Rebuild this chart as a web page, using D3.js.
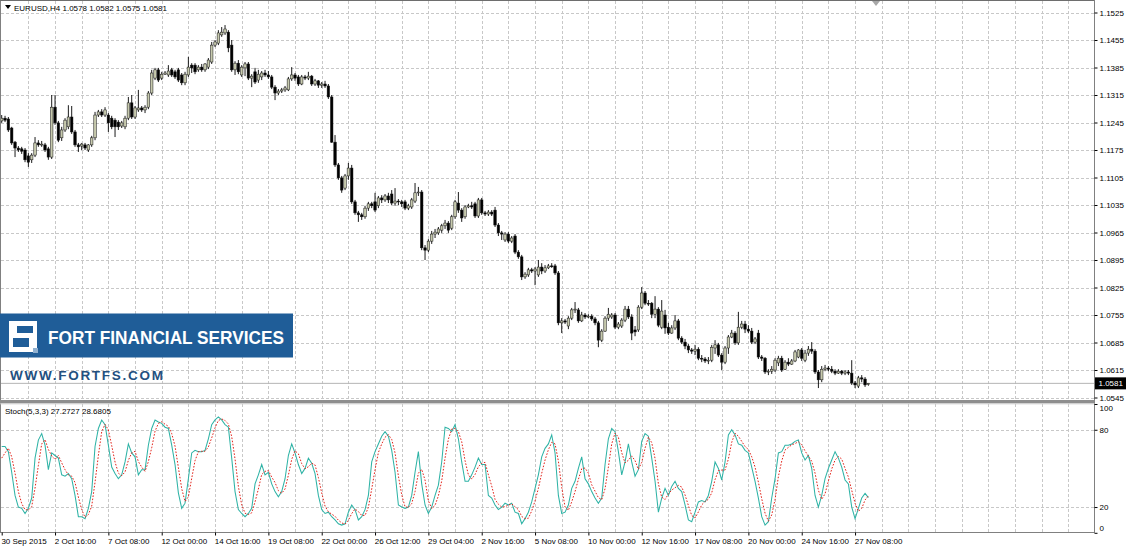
<!DOCTYPE html>
<html><head><meta charset="utf-8">
<script src="https://cdn.jsdelivr.net/npm/d3@7"></script>
<style>
html,body{margin:0;padding:0;background:#fff;overflow:hidden}
svg{display:block}
text{font-family:"Liberation Sans",Arial,sans-serif}
</style></head><body>
<svg id="c" width="1126" height="547"></svg>
<script>
// ---- DATA (EURUSD H4) ----
const opens=[
1.1249,1.1256,1.1254,1.1231,1.1195,1.1180,1.1178,1.1175,1.1160,1.1150,
1.1162,1.1193,1.1188,1.1188,1.1178,1.1157,1.1284,1.1244,1.1206,1.1226,
1.1234,1.1259,1.1221,1.1188,1.1185,1.1188,1.1175,1.1188,1.1206,1.1264,
1.1272,1.1264,1.1264,1.1256,1.1251,1.1246,1.1236,1.1234,1.1256,1.1295,
1.1259,1.1277,1.1282,1.1277,1.1284,1.1320,1.1358,1.1379,1.1358,1.1368,
1.1366,1.1379,1.1374,1.1379,1.1366,1.1346,1.1366,1.1391,1.1391,1.1379,
1.1386,1.1379,1.1386,1.1399,1.1442,1.1447,1.1468,1.1473,1.1475,1.1442,
1.1379,1.1396,1.1366,1.1384,1.1394,1.1358,1.1374,1.1353,1.1361,1.1371,
1.1366,1.1361,1.1335,1.1320,1.1325,1.1328,1.1328,1.1356,1.1366,1.1361,
1.1343,1.1361,1.1358,1.1363,1.1343,1.1351,1.1340,1.1343,1.1338,1.1310,
1.1195,1.1137,1.1104,1.1078,1.1109,1.1129,1.1043,1.1015,1.1010,1.1005,
1.1027,1.1038,1.1043,1.1033,1.1053,1.1048,1.1058,1.1063,1.1040,1.1045,
1.1043,1.1043,1.1027,1.1030,1.1045,1.1066,1.1068,1.0926,1.0920,1.0943,
1.0961,1.0964,1.0971,1.0982,1.0989,1.0976,1.1005,1.1040,1.1022,1.1005,
1.1030,1.1033,1.1038,1.1007,1.1048,1.1015,1.1012,1.1017,1.1022,1.0984,
1.0964,1.0946,1.0961,1.0943,1.0956,1.0915,1.0903,1.0852,1.0857,1.0870,
1.0867,1.0857,1.0877,1.0867,1.0875,1.0880,1.0880,1.0862,1.0735,1.0740,
1.0727,1.0747,1.0768,1.0768,1.0740,1.0755,1.0750,1.0752,1.0745,1.0735,
1.0691,1.0714,1.0747,1.0750,1.0755,1.0724,1.0727,1.0742,1.0770,1.0750,
1.0717,1.0717,1.0775,1.0811,1.0785,1.0785,1.0757,1.0770,1.0724,1.0755,
1.0724,1.0709,1.0722,1.0740,1.0696,1.0686,1.0676,1.0666,1.0663,1.0668,
1.0645,1.0643,1.0638,1.0640,1.0671,1.0679,1.0653,1.0635,1.0671,1.0699,
1.0709,1.0684,1.0724,1.0732,1.0719,1.0714,1.0686,1.0709,1.0648,1.0645,
1.0610,1.0612,1.0615,1.0633,1.0645,1.0617,1.0635,1.0630,1.0638,1.0648,
1.0666,1.0640,1.0658,1.0668,1.0663,1.0610,1.0590,1.0617,1.0620,1.0617,
1.0612,1.0607,1.0612,1.0607,1.0610,1.0607,1.0582,1.0574,1.0595,1.0592,1.0578];
const highs=[
1.1264,1.1262,1.1259,1.1234,1.1198,1.1185,1.1183,1.1180,1.1167,1.1167,
1.1208,1.1200,1.1198,1.1193,1.1183,1.1315,1.1315,1.1249,1.1234,1.1256,
1.1289,1.1287,1.1226,1.1193,1.1193,1.1193,1.1190,1.1211,1.1272,1.1277,
1.1279,1.1284,1.1269,1.1262,1.1256,1.1251,1.1249,1.1262,1.1310,1.1315,
1.1287,1.1328,1.1287,1.1289,1.1325,1.1379,1.1384,1.1384,1.1374,1.1376,
1.1391,1.1384,1.1379,1.1384,1.1371,1.1374,1.1412,1.1396,1.1396,1.1391,
1.1394,1.1396,1.1409,1.1450,1.1455,1.1480,1.1488,1.1493,1.1480,1.1455,
1.1401,1.1404,1.1391,1.1399,1.1399,1.1368,1.1384,1.1379,1.1376,1.1379,
1.1376,1.1366,1.1340,1.1330,1.1333,1.1338,1.1361,1.1386,1.1371,1.1366,
1.1366,1.1366,1.1374,1.1366,1.1356,1.1353,1.1348,1.1351,1.1343,1.1315,
1.1213,1.1142,1.1109,1.1114,1.1142,1.1137,1.1048,1.1020,1.1015,1.1033,
1.1043,1.1043,1.1066,1.1058,1.1060,1.1063,1.1066,1.1073,1.1078,1.1050,
1.1048,1.1048,1.1038,1.1053,1.1091,1.1081,1.1073,1.0933,1.0948,1.0969,
1.0974,1.0979,1.0987,1.0997,1.0994,1.1010,1.1048,1.1068,1.1027,1.1035,
1.1038,1.1043,1.1043,1.1053,1.1053,1.1020,1.1022,1.1022,1.1030,1.0989,
1.0969,1.0966,1.0966,1.0956,1.0961,1.0920,1.0908,1.0864,1.0875,1.0875,
1.0877,1.0895,1.0887,1.0882,1.0885,1.0887,1.0885,1.0867,1.0747,1.0745,
1.0752,1.0773,1.0788,1.0773,1.0763,1.0760,1.0757,1.0757,1.0750,1.0740,
1.0719,1.0752,1.0773,1.0760,1.0760,1.0737,1.0747,1.0778,1.0778,1.0757,
1.0727,1.0780,1.0826,1.0816,1.0793,1.0788,1.0803,1.0775,1.0793,1.0768,
1.0735,1.0729,1.0755,1.0745,1.0701,1.0694,1.0681,1.0671,1.0679,1.0673,
1.0653,1.0648,1.0648,1.0679,1.0691,1.0684,1.0658,1.0676,1.0704,1.0717,
1.0714,1.0763,1.0740,1.0740,1.0729,1.0722,1.0699,1.0717,1.0653,1.0648,
1.0617,1.0625,1.0645,1.0651,1.0651,1.0640,1.0645,1.0643,1.0666,1.0668,
1.0671,1.0666,1.0676,1.0686,1.0668,1.0615,1.0625,1.0628,1.0625,1.0625,
1.0617,1.0617,1.0615,1.0615,1.0615,1.0640,1.0587,1.0600,1.0602,1.0597,1.0582];
const lows=[
1.1244,1.1246,1.1221,1.1188,1.1157,1.1170,1.1165,1.1144,1.1132,1.1142,
1.1157,1.1183,1.1183,1.1170,1.1150,1.1152,1.1239,1.1195,1.1198,1.1221,
1.1228,1.1216,1.1183,1.1170,1.1175,1.1175,1.1170,1.1183,1.1200,1.1259,
1.1259,1.1259,1.1221,1.1228,1.1208,1.1226,1.1231,1.1228,1.1251,1.1254,
1.1254,1.1272,1.1272,1.1269,1.1279,1.1315,1.1353,1.1348,1.1353,1.1366,
1.1361,1.1361,1.1356,1.1348,1.1340,1.1340,1.1361,1.1371,1.1368,1.1374,
1.1374,1.1374,1.1381,1.1394,1.1437,1.1442,1.1463,1.1468,1.1424,1.1374,
1.1366,1.1368,1.1361,1.1363,1.1353,1.1335,1.1343,1.1346,1.1353,1.1361,
1.1356,1.1330,1.1302,1.1315,1.1320,1.1323,1.1325,1.1351,1.1351,1.1338,
1.1340,1.1353,1.1353,1.1338,1.1338,1.1333,1.1333,1.1333,1.1305,1.1193,
1.1132,1.1099,1.1066,1.1073,1.1099,1.1038,1.1010,1.0992,1.0997,1.1000,
1.1020,1.1027,1.1017,1.1027,1.1040,1.1043,1.1040,1.1035,1.1033,1.1035,
1.1030,1.1022,1.1022,1.1025,1.1040,1.1058,1.0920,1.0895,1.0915,1.0936,
1.0951,1.0959,1.0964,1.0974,1.0964,1.0971,1.1000,1.1015,1.0992,1.1000,
1.1027,1.1025,1.1002,1.1002,1.1010,1.1007,1.1007,1.1007,1.0979,1.0956,
1.0946,1.0941,1.0938,1.0938,1.0910,1.0898,1.0844,1.0847,1.0852,1.0862,
1.0831,1.0852,1.0859,1.0862,1.0872,1.0875,1.0857,1.0729,1.0709,1.0732,
1.0719,1.0742,1.0760,1.0735,1.0737,1.0745,1.0747,1.0740,1.0729,1.0673,
1.0686,1.0712,1.0740,1.0745,1.0719,1.0719,1.0722,1.0737,1.0745,1.0691,
1.0701,1.0712,1.0770,1.0780,1.0778,1.0747,1.0747,1.0724,1.0719,1.0707,
1.0704,1.0707,1.0717,1.0691,1.0681,1.0668,1.0658,1.0656,1.0653,1.0640,
1.0635,1.0633,1.0630,1.0635,1.0656,1.0648,1.0615,1.0630,1.0656,1.0696,
1.0679,1.0679,1.0719,1.0709,1.0709,1.0681,1.0681,1.0643,1.0638,1.0605,
1.0602,1.0605,1.0610,1.0625,1.0610,1.0615,1.0625,1.0628,1.0635,1.0645,
1.0638,1.0635,1.0651,1.0656,1.0605,1.0569,1.0584,1.0612,1.0612,1.0607,
1.0602,1.0605,1.0602,1.0602,1.0602,1.0577,1.0569,1.0569,1.0584,1.0572,1.0575];
const closes=[
1.1256,1.1251,1.1226,1.1193,1.1180,1.1175,1.1172,1.1150,1.1144,1.1162,
1.1193,1.1188,1.1190,1.1175,1.1157,1.1284,1.1244,1.1200,1.1226,1.1251,
1.1259,1.1221,1.1188,1.1183,1.1190,1.1180,1.1188,1.1206,1.1264,1.1272,
1.1264,1.1277,1.1244,1.1234,1.1234,1.1234,1.1244,1.1256,1.1295,1.1259,
1.1282,1.1282,1.1277,1.1284,1.1320,1.1371,1.1379,1.1353,1.1368,1.1371,
1.1376,1.1366,1.1361,1.1353,1.1346,1.1368,1.1386,1.1384,1.1374,1.1386,
1.1379,1.1394,1.1404,1.1442,1.1450,1.1473,1.1475,1.1483,1.1435,1.1379,
1.1396,1.1374,1.1386,1.1394,1.1358,1.1363,1.1348,1.1368,1.1371,1.1366,
1.1361,1.1335,1.1320,1.1325,1.1328,1.1333,1.1356,1.1366,1.1358,1.1343,
1.1361,1.1358,1.1363,1.1343,1.1351,1.1340,1.1343,1.1338,1.1310,1.1195,
1.1137,1.1104,1.1073,1.1109,1.1129,1.1043,1.1015,1.1010,1.1005,1.1027,
1.1038,1.1033,1.1022,1.1053,1.1048,1.1058,1.1048,1.1040,1.1045,1.1043,
1.1038,1.1027,1.1033,1.1048,1.1066,1.1068,1.0926,1.0920,1.0943,1.0961,
1.0966,1.0974,1.0982,1.0989,1.0971,1.1005,1.1043,1.1022,1.1002,1.1030,
1.1033,1.1030,1.1007,1.1048,1.1015,1.1012,1.1017,1.1012,1.0984,1.0964,
1.0961,1.0961,1.0943,1.0951,1.0915,1.0903,1.0852,1.0859,1.0870,1.0867,
1.0872,1.0877,1.0867,1.0875,1.0880,1.0879,1.0862,1.0735,1.0740,1.0737,
1.0747,1.0768,1.0770,1.0740,1.0755,1.0750,1.0752,1.0745,1.0735,1.0691,
1.0714,1.0747,1.0757,1.0755,1.0724,1.0732,1.0742,1.0770,1.0750,1.0709,
1.0712,1.0775,1.0811,1.0785,1.0783,1.0757,1.0770,1.0729,1.0765,1.0722,
1.0709,1.0722,1.0740,1.0696,1.0686,1.0676,1.0666,1.0663,1.0668,1.0645,
1.0643,1.0638,1.0640,1.0673,1.0679,1.0653,1.0635,1.0671,1.0699,1.0709,
1.0684,1.0724,1.0732,1.0719,1.0714,1.0686,1.0694,1.0648,1.0645,1.0610,
1.0612,1.0617,1.0640,1.0645,1.0615,1.0635,1.0630,1.0638,1.0661,1.0666,
1.0645,1.0658,1.0668,1.0663,1.0610,1.0590,1.0617,1.0620,1.0617,1.0612,
1.0607,1.0612,1.0607,1.0610,1.0607,1.0582,1.0577,1.0595,1.0592,1.0577,1.0581];
// Stochastic(5,3,3): %K main line and %D signal line
const stochK=[
67,67,63,47,29,20,19,15,19,27,
58,72,77,68,49,62,60,58,45,44,
46,42,29,12.5,12.5,11,19,32,67,81,
87.6,84,68,51,46,42,45,55,69,62,
59,45,49,49,68,81,87.6,86,85,82,
81,68,53,31,19,23,42,62,64,63,
63,64,73,84,87.6,90,87.6,84,82,58,
32,18,15,12.5,15,19,38,45,53,45,
47,38,32,28,32,42,60,69,62,53,
46,50,58,54,46,29,18,15,16,12.5,
10,7,6,7,16,21.6,18,10,12.5,18,
29,55,63,69,75,78.5,75,64,47,21.6,
20,19,20,29,47,63,38,21.6,15,20,
29,37,55,82,81,78.5,84,73,55,40,
40,45,51,58,53,53,29,27,21.6,18,
20,23,21.6,23,16,15,7,11,16,24,
34.5,45,59,65.6,69,76,62,29,15,16,
21.6,34.5,40,50,59,42,38,32,27,23,
27,53,73,81,78.5,63,45,55,69,55,
44,49,71,77,75,58,40,16,27,34.5,
29,36,40,34.5,32,21.6,10,8.6,16,24,
25,24,29,40,55,50,41,55,76,80,
76,69,68,64,62,51,40,27,12.5,6,
8.6,27,42,62,63,68,68,69,71,72,
62,56.5,60,50,29,20,29,42,50,56.5,
63,58,51,41,38,20,11,19,27,30.6,27.2727];
const stochD=[
58,62,65.7,59,46.3,32,22.7,18,17.7,20.3,
34.7,52.3,69,72.3,64.7,59.7,57,60,54.3,49,
45,44,39,27.8,18,12,14.2,20.7,39.3,60,
78.5,84.2,79.9,67.7,55,46.3,44.3,47.3,56.3,62,
63.3,55.3,51,47.7,55.3,66,78.9,84.9,86.2,84.3,
82.7,77,67.3,50.7,34.3,24.3,28,42.3,56,63,
63.3,63.3,66.7,73.7,81.5,87.2,88.4,87.2,84.5,74.7,
57.3,36,21.7,15.2,14.2,15.5,24,34,45.3,47.7,
48.3,43.3,39,32.7,30.7,34,44.7,57,63.7,61.3,
53.7,49.7,51.3,54,52.7,43,31,20.7,16.3,14.5,
12.8,9.8,7.7,6.7,9.7,14.9,18.5,16.5,13.5,13.5,
19.8,34,49,62.3,69,74.2,76.2,72.5,62,44.2,
29.5,20.2,19.7,22.7,32,46.3,49.3,40.9,24.9,18.9,
21.3,28.7,40.3,58,72.7,80.5,81.2,78.5,70.7,56,
45,41.7,45.3,51.3,54,54.7,45,36.3,25.9,22.2,
19.9,20.3,21.5,22.5,20.2,18,12.7,11,11.3,17,
24.8,34.5,46.2,56.5,64.5,70.2,69,55.7,35.3,20,
17.5,24,32,41.5,49.7,50.3,46.3,37.3,32.3,27.3,
25.7,34.3,51,69,77.5,74.2,62.2,54.3,56.3,59.7,
56,49.3,54.7,65.7,74.3,70,57.7,38,27.7,25.8,
30.2,33.2,35,36.8,35.5,29.4,21.2,13.4,11.5,16.2,
21.7,24.3,26,31,41.3,48.3,48.7,48.7,57.3,70.3,
77.3,75,71,67,64.7,59,51,39.3,26.5,15.2,
9,13.9,25.9,43.7,55.7,64.3,66.3,68.3,69.3,70.7,
68.3,63.5,59.5,55.5,46.3,33,26,30.3,40.3,49.5,
56.5,59.2,57.3,50,43.3,33,23,16.7,19,25.5,28.6805];
const priceTicks=[1.1525,1.1455,1.1385,1.1315,1.1245,1.1175,1.1105,1.1035,1.0965,1.0895,1.0825,1.0755,1.0685,1.0615,1.0545];
const stochTicks=[100,80,20,0];
const stochLevels=[80,20];
const dateLabels=["30 Sep 2015","2 Oct 16:00","7 Oct 08:00","12 Oct 00:00","14 Oct 16:00","19 Oct 08:00","22 Oct 00:00","26 Oct 12:00","29 Oct 04:00","2 Nov 16:00","5 Nov 08:00","10 Nov 00:00","12 Nov 16:00","17 Nov 08:00","20 Nov 00:00","24 Nov 16:00","27 Nov 08:00"];
const symbol="EURUSD,H4";
const lastBar=[1.0578,1.0582,1.0575,1.0581];
const stochName="Stoch(5,3,3)";

// ---- LAYOUT ----
const svg=d3.select('#c');
const FONT='"Liberation Sans",Arial,sans-serif';
const plotR=1094.5, mainBot=400, subTop=404, subBot=532.8;
const x=d3.scaleLinear().domain([0,320]).range([1.7,1068.4]);
const y=d3.scaleLinear().domain([1.0545,1.1525]).range([397.5,12.5]);
const ys=d3.scaleLinear().domain([0,100]).range([subBot,subTop]);
const px=v=>Math.round(v)+0.5;

svg.append('rect').attr('width',1126).attr('height',547).attr('fill','#fff');

// grid
const grid=svg.append('g').attr('stroke','#c8c8c8').attr('stroke-width',1).attr('stroke-dasharray','3,2');
const vIdx=d3.range(8,330,8).filter(i=>x(i)<plotR-1);
grid.selectAll('line.vm').data(vIdx).join('line').attr('class','vm')
  .attr('x1',d=>px(x(d))).attr('x2',d=>px(x(d))).attr('y1',1).attr('y2',mainBot);
grid.selectAll('line.vs').data(vIdx).join('line').attr('class','vs')
  .attr('x1',d=>px(x(d))).attr('x2',d=>px(x(d))).attr('y1',subTop).attr('y2',subBot);
grid.selectAll('line.hm').data(priceTicks).join('line').attr('class','hm')
  .attr('x1',1).attr('x2',plotR).attr('y1',d=>px(y(d))).attr('y2',d=>px(y(d)));
grid.selectAll('line.hs').data(stochLevels).join('line').attr('class','hs')
  .attr('x1',1).attr('x2',plotR).attr('y1',d=>px(ys(d))).attr('y2',d=>px(ys(d)));

// current price line
svg.append('line').attr('x1',1).attr('x2',plotR).attr('y1',y(lastBar[3])).attr('y2',y(lastBar[3]))
  .attr('stroke','#b4b4b4').attr('stroke-width',1);

// candles
const bars=opens.map((o,i)=>({i,o,h:highs[i],l:lows[i],c:closes[i]}));
const cg=svg.append('g');
cg.selectAll('line').data(bars).join('line')
  .attr('x1',d=>x(d.i)).attr('x2',d=>x(d.i)).attr('y1',d=>y(d.h)).attr('y2',d=>y(d.l))
  .attr('stroke','#000').attr('stroke-width',0.9);
cg.selectAll('rect').data(bars).join('rect')
  .attr('x',d=>x(d.i)-1.25).attr('width',2.5)
  .attr('y',d=>y(Math.max(d.o,d.c)))
  .attr('height',d=>Math.max(0.9,Math.abs(y(d.o)-y(d.c))))
  .attr('fill',d=>d.c>=d.o?'#c6c9ad':'#000')
  .attr('stroke','#111').attr('stroke-width',0.5);

// stochastic lines
svg.append('clipPath').attr('id','subclip').append('rect').attr('x',0).attr('y',subTop).attr('width',plotR).attr('height',subBot-subTop);
const line=d3.line().x((d,i)=>x(i)).y(d=>ys(d));
const sg=svg.append('g').attr('clip-path','url(#subclip)');
sg.append('path').datum(stochK).attr('d',line).attr('fill','none').attr('stroke','#2fb3a6').attr('stroke-width',1.05);
sg.append('path').datum(stochD).attr('d',line).attr('fill','none').attr('stroke','#e2231a').attr('stroke-width',1).attr('stroke-dasharray','1.6,1.6');

// frames
const fr=svg.append('g').attr('stroke','#808080').attr('stroke-width',1).attr('fill','none');
fr.append('line').attr('x1',0.5).attr('x2',0.5).attr('y1',0).attr('y2',533);
fr.append('line').attr('x1',0).attr('x2',plotR).attr('y1',0.5).attr('y2',0.5).attr('stroke','#6e6e6e');
fr.append('line').attr('x1',plotR).attr('x2',plotR).attr('y1',0).attr('y2',533);
fr.append('line').attr('x1',0).attr('x2',plotR).attr('y1',532.5).attr('y2',532.5);
svg.append('rect').attr('x',0).attr('y',400).attr('width',plotR).attr('height',3.2).attr('fill','#8e8e8e');
svg.append('line').attr('x1',0).attr('x2',plotR).attr('y1',403.8).attr('y2',403.8).attr('stroke','#c8c8c8');

// price axis
const styleAxis=g=>{g.select('.domain').remove();
  g.attr('font-family',FONT).attr('font-size',8);
  g.selectAll('line').attr('stroke','#000');
  g.selectAll('text').attr('fill','#000');};
svg.append('g').attr('transform',`translate(${plotR},0)`)
  .call(d3.axisRight(y).tickValues(priceTicks).tickFormat(d=>d.toFixed(4)).tickSize(3).tickPadding(2))
  .call(styleAxis);
// stochastic axis
const sa=svg.append('g').attr('transform',`translate(${plotR},0)`)
  .call(d3.axisRight(ys).tickValues(stochTicks).tickFormat(d=>String(d)).tickSize(3).tickPadding(2))
  .call(styleAxis);
sa.selectAll('.tick text').attr('dy',d=>d===100?'0.85em':d===0?'-0.3em':'0.32em');
// date axis
const da=svg.append('g').attr('transform','translate(0,532.5)')
  .call(d3.axisBottom(x).tickValues(dateLabels.map((d,i)=>i*16)).tickFormat((d,i)=>dateLabels[i]).tickSize(3).tickPadding(2.5))
  .call(styleAxis);
da.selectAll('.tick text').attr('text-anchor','start').attr('dx','-0.1em');

// last price tag
const ly=y(lastBar[3]);
svg.append('rect').attr('x',plotR+0.5).attr('y',ly-6).attr('width',31).attr('height',12).attr('fill','#000');
svg.append('text').attr('x',plotR+4).attr('y',ly+3).attr('font-size',8).attr('font-family',FONT).attr('fill','#fff').text(lastBar[3].toFixed(4));

// header
svg.append('path').attr('d','M5,5 L11,5 L8,9 Z').attr('fill','#000');
svg.append('text').attr('x',14).attr('y',10.5).attr('font-size',8).attr('font-family',FONT).attr('fill','#000')
  .text(symbol+'  '+lastBar.map(v=>v.toFixed(4)).join(' '));
svg.append('text').attr('x',5).attr('y',414).attr('font-size',8).attr('font-family',FONT).attr('fill','#000')
  .text(stochName+' '+stochK[stochK.length-1].toFixed(4)+' '+stochD[stochD.length-1].toFixed(4));
// chart shift marker
svg.append('path').attr('d','M872,1 L880,1 L876,6 Z').attr('fill','#a8a8a8');

// logo
const lg=svg.append('g');
lg.append('rect').attr('x',0).attr('y',313.5).attr('width',293).attr('height',44).attr('fill','#1f5d98');
lg.append('rect').attr('x',9).attr('y',321).attr('width',28).attr('height',31).attr('fill','#fff');
lg.append('rect').attr('x',17).attr('y',326).attr('width',16).attr('height',7).attr('fill','#1f5d98');
lg.append('rect').attr('x',13).attr('y',338).attr('width',16).attr('height',9).attr('fill','#1f5d98');
lg.append('rect').attr('x',33).attr('y',348).attr('width',5).attr('height',5).attr('fill','#8fb0d0');
lg.append('text').attr('x',48).attr('y',343.5).attr('font-family','"Open Sans",Lato,sans-serif').attr('font-weight',700)
  .attr('font-size',18.5).attr('fill','#fff').attr('textLength',236).attr('lengthAdjust','spacingAndGlyphs').text('FORT FINANCIAL SERVICES');
lg.append('text').attr('x',10).attr('y',379.5).attr('font-family','"Open Sans",Lato,sans-serif').attr('font-weight',600)
  .attr('font-size',13.5).attr('fill','#23507f').attr('textLength',153).attr('lengthAdjust','spacing').text('WWW.FORTFS.COM');
</script>
</body></html>
